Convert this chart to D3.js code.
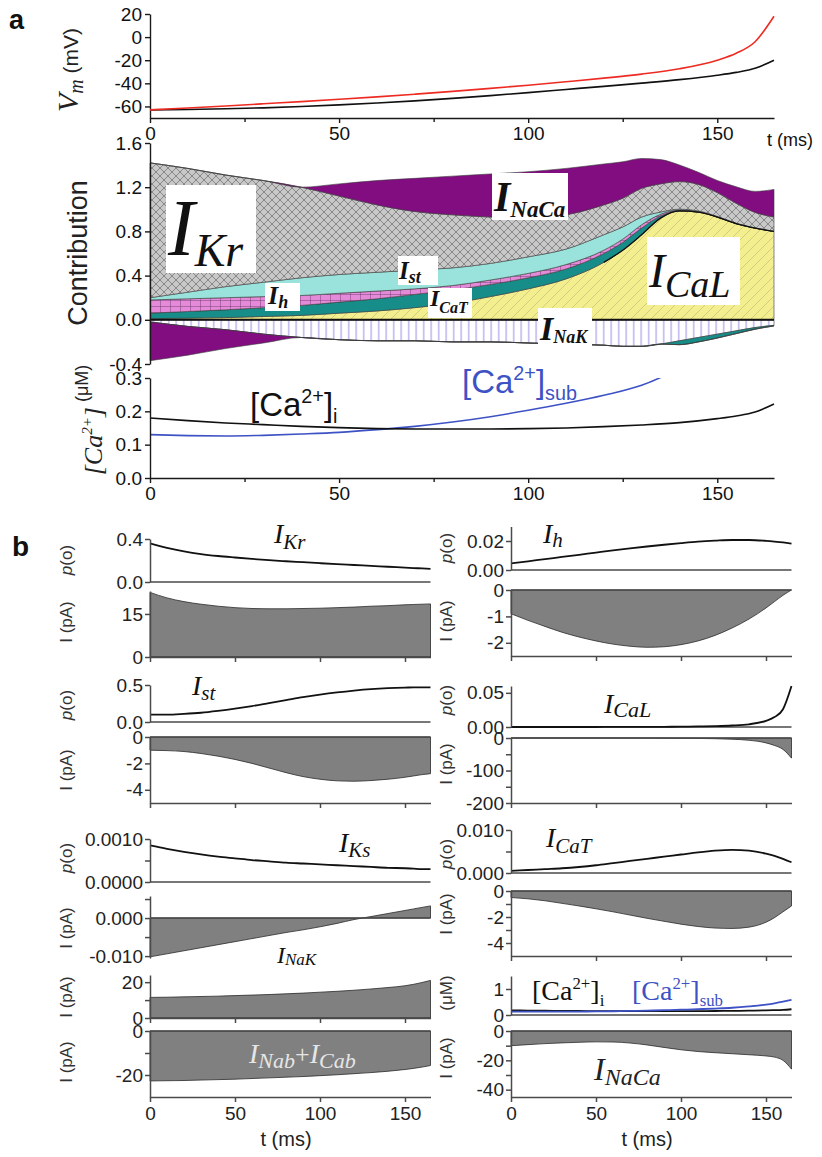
<!DOCTYPE html>
<html>
<head>
<meta charset="utf-8">
<script src="https://cdn.jsdelivr.net/npm/d3@7"></script>
<style>
  body { margin: 0; background: #fff; }
  svg { display: block; }
</style>
</head>
<body>
<script>
// ---- panel a: relative contributions (stacked), t in ms ----
const tContrib = [0, 10, 20, 30, 40, 50, 60, 70, 80, 90, 100, 110, 120, 125, 130, 135, 140, 145, 150, 155, 160, 165];
const contribICaL = [0.01, 0.015, 0.02, 0.03, 0.04, 0.06, 0.08, 0.11, 0.15, 0.21, 0.28, 0.37, 0.52, 0.63, 0.77, 0.92, 0.985, 0.975, 0.93, 0.87, 0.83, 0.8];
const contribICaT = [0.05, 0.06, 0.07, 0.08, 0.09, 0.10, 0.11, 0.12, 0.12, 0.11, 0.10, 0.09, 0.08, 0.07, 0.06, 0.02, -0.035, -0.04, -0.035, -0.025, -0.015, -0.005];
const contribIh = [0.12, 0.115, 0.11, 0.10, 0.09, 0.08, 0.07, 0.05, 0.04, 0.04, 0.04, 0.04, 0.03, 0.03, 0.03, 0.015, 0.008, 0.005, 0.003, 0.002, 0.001, 0];
const contribIst = [0.02, 0.06, 0.10, 0.13, 0.16, 0.17, 0.17, 0.17, 0.16, 0.15, 0.15, 0.14, 0.14, 0.11, 0.07, 0.02, 0.008, 0.005, 0.003, 0.002, 0.001, 0];
const contribIKr = [1.22, 1.12, 1.01, 0.92, 0.82, 0.71, 0.61, 0.53, 0.48, 0.42, 0.35, 0.31, 0.27, 0.26, 0.26, 0.255, 0.25, 0.24, 0.215, 0.18, 0.14, 0.13];
const contribINaCa = [-0.35, -0.26, -0.17, -0.08, 0, 0.11, 0.22, 0.30, 0.35, 0.39, 0.42, 0.42, 0.37, 0.33, 0.27, 0.22, 0.15, 0.11, 0.11, 0.15, 0.19, 0.25];
const contribINaK = [-0.02, -0.06, -0.09, -0.13, -0.16, -0.18, -0.19, -0.19, -0.2, -0.2, -0.21, -0.22, -0.23, -0.24, -0.24, -0.22, -0.19, -0.16, -0.13, -0.1, -0.07, -0.05];

// ---- traces (panels a and b), t in ms ----
const tTrace = [0, 10, 20, 30, 40, 50, 60, 70, 80, 90, 100, 110, 120, 130, 140, 150, 155, 160, 165];
const vmBlack = [-63, -62.6, -62, -61.2, -60, -58.6, -57, -55.2, -53, -50.6, -48, -45.3, -42.6, -39.8, -36.8, -33, -30.5, -27, -20];
const vmRed = [-63, -61.4, -59.6, -57.7, -55.8, -53.8, -51.7, -49.4, -47, -44.4, -41.6, -38.6, -35.5, -32, -27.4, -20, -14, -4, 18];
const caI = [0.18, 0.172, 0.165, 0.16, 0.155, 0.151, 0.148, 0.147, 0.147, 0.147, 0.148, 0.15, 0.154, 0.159, 0.166, 0.178, 0.186, 0.198, 0.222];
const caSub = [0.13, 0.127, 0.126, 0.128, 0.132, 0.137, 0.145, 0.155, 0.168, 0.184, 0.203, 0.224, 0.248, 0.278, 0.33, 0.4, 0.45, 0.51, 0.58];

const pIKr = [0.36, 0.318, 0.285, 0.26, 0.242, 0.228, 0.215, 0.203, 0.193, 0.184, 0.175, 0.166, 0.158, 0.15, 0.142, 0.134, 0.13, 0.126, 0.122];
const iIKr = [22.5, 20.6, 19.3, 18.4, 17.7, 17.2, 16.9, 16.8, 16.8, 16.9, 17.0, 17.2, 17.4, 17.7, 17.9, 18.2, 18.3, 18.4, 18.5];
const pIh = [0.0045, 0.006, 0.0075, 0.009, 0.0105, 0.012, 0.0135, 0.0149, 0.0162, 0.0174, 0.0185, 0.0195, 0.0202, 0.0207, 0.0207, 0.0201, 0.0196, 0.019, 0.0182];
const iIh = [-0.9, -1.15, -1.38, -1.6, -1.78, -1.93, -2.05, -2.13, -2.17, -2.15, -2.07, -1.93, -1.72, -1.44, -1.1, -0.68, -0.44, -0.2, 0];
const pIst = [0.1, 0.1, 0.11, 0.125, 0.15, 0.18, 0.215, 0.255, 0.295, 0.335, 0.37, 0.4, 0.425, 0.445, 0.458, 0.465, 0.467, 0.468, 0.469];
const iIst = [-1.0, -1.03, -1.1, -1.25, -1.45, -1.7, -2.0, -2.35, -2.7, -3.0, -3.2, -3.32, -3.35, -3.3, -3.2, -3.05, -2.95, -2.85, -2.78];
const pICaL = [0, 0, 0, 0, 0, 0, 0.0001, 0.0001, 0.0002, 0.0003, 0.0005, 0.0008, 0.0013, 0.0022, 0.004, 0.009, 0.0145, 0.026, 0.06];
const iICaL = [0, 0, 0, 0, 0, 0, -0.1, -0.2, -0.3, -0.5, -0.8, -1.3, -2.2, -3.8, -7, -15, -23, -35, -62];
const pIKs = [0.00085, 0.00077, 0.0007, 0.00064, 0.00059, 0.00055, 0.00051, 0.00048, 0.00045, 0.00043, 0.00041, 0.00039, 0.00037, 0.00035, 0.00033, 0.00032, 0.00031, 0.0003, 0.0003];
const iIKs = [-0.0102, -0.0094, -0.0086, -0.0078, -0.007, -0.0062, -0.0054, -0.0046, -0.0038, -0.0031, -0.0023, -0.0014, -0.0004, 0.0004, 0.0012, 0.002, 0.0024, 0.0028, 0.0032];
const pICaT = [0.0005, 0.0007, 0.0009, 0.0011, 0.0014, 0.0018, 0.0023, 0.0028, 0.0033, 0.0038, 0.0043, 0.0048, 0.0052, 0.0054, 0.0052, 0.0045, 0.004, 0.0033, 0.0025];
const iICaT = [-0.5, -0.6, -0.75, -0.95, -1.15, -1.37, -1.6, -1.85, -2.1, -2.33, -2.55, -2.73, -2.85, -2.88, -2.78, -2.4, -2.05, -1.6, -1.15];
const iINaK = [11.5, 11.6, 11.8, 12.0, 12.2, 12.5, 12.8, 13.1, 13.5, 13.9, 14.4, 14.9, 15.5, 16.2, 17.0, 18.0, 18.8, 19.8, 21.0];
const iBackground = [-22.7, -22.6, -22.5, -22.3, -22.1, -21.9, -21.6, -21.3, -21.0, -20.7, -20.3, -19.9, -19.4, -18.9, -18.3, -17.5, -17.0, -16.4, -15.7];
const iINaCa = [-10, -9.3, -8.6, -8.1, -7.7, -7.4, -7.5, -8.2, -9.5, -11.2, -12.8, -14, -14.8, -15.5, -16.2, -17, -17.8, -20, -26];

const SANS = "'Liberation Sans', Arial, sans-serif";
const SERIF = "'Liberation Serif', 'Times New Roman', serif";
const hy = f => d => d3.format(f)(d).replace('\u2212', '-');

const svg = d3.select('body').append('svg')
  .attr('width', 822).attr('height', 1157)
  .attr('font-family', SANS);
const defs = svg.append('defs');

function styleA(g) {
  g.selectAll('path,line').attr('stroke', '#1a1a1a').attr('stroke-width', 1.4);
  g.selectAll('text').attr('font-family', SANS).attr('font-size', 19).attr('fill', '#111');
}
function styleB(g) {
  g.selectAll('path,line').attr('stroke', '#4a4a4a').attr('stroke-width', 1.5);
  g.selectAll('text').attr('font-family', SANS).attr('font-size', 19).attr('fill', '#222');
}

function iLabel(x, y, sub, s1, s2, dy, opt = {}) {
  const t = svg.append('text').attr('x', x).attr('y', y)
    .attr('font-family', SERIF).attr('font-style', 'italic')
    .attr('font-weight', opt.bold ? 'bold' : 'normal')
    .attr('fill', opt.fill || '#111');
  t.append('tspan').attr('font-size', s1).text('I');
  t.append('tspan').attr('font-size', s2).attr('dy', dy).text(sub);
  return t;
}

function caLabel(x, y, sub, size, family, color) {
  const t = svg.append('text').attr('x', x).attr('y', y)
    .attr('font-family', family).attr('font-size', size).attr('fill', color);
  t.append('tspan').text('[Ca');
  t.append('tspan').attr('font-size', size * 0.6).attr('dy', -size * 0.38).text('2+');
  t.append('tspan').attr('dy', size * 0.38).text(']');
  t.append('tspan').attr('font-size', size * 0.6).attr('dy', size * 0.22).text(sub);
  return t;
}

function vLabel(x, y, text, size, opt = {}) {
  return svg.append('text')
    .attr('transform', `translate(${x},${y}) rotate(-90)`)
    .attr('text-anchor', 'middle')
    .attr('font-size', size)
    .attr('fill', opt.fill || '#333')
    .text(text);
}

// ---------------- patterns ----------------
const pKr = defs.append('pattern').attr('id', 'pKr').attr('patternUnits', 'userSpaceOnUse').attr('width', 8).attr('height', 8);
pKr.append('rect').attr('width', 8).attr('height', 8).attr('fill', '#c8c8c8');
pKr.append('path').attr('d', 'M0,0L8,8M8,0L0,8').attr('stroke', '#777').attr('stroke-width', 0.8);

const pCaL = defs.append('pattern').attr('id', 'pCaL').attr('patternUnits', 'userSpaceOnUse').attr('width', 10).attr('height', 10);
pCaL.append('rect').attr('width', 10).attr('height', 10).attr('fill', '#f4ef8e');
pCaL.append('path').attr('d', 'M0,10L10,0M-2,2L2,-2M8,12L12,8').attr('stroke', '#c9c27e').attr('stroke-width', 0.8);

const pH = defs.append('pattern').attr('id', 'pH').attr('patternUnits', 'userSpaceOnUse').attr('width', 10).attr('height', 6);
pH.append('rect').attr('width', 10).attr('height', 6).attr('fill', '#e48ad8');
pH.append('path').attr('d', 'M0,0H10M0,0V6').attr('stroke', '#603060').attr('stroke-width', 0.8);

const pNaK = defs.append('pattern').attr('id', 'pNaK').attr('patternUnits', 'userSpaceOnUse').attr('width', 7.5).attr('height', 10);
pNaK.append('rect').attr('width', 7.5).attr('height', 10).attr('fill', '#fff');
pNaK.append('path').attr('d', 'M3.7,0V10').attr('stroke', '#9d8fe6').attr('stroke-width', 1);

// ---------------- panel a ----------------
svg.append('text').attr('x', 9).attr('y', 29).attr('font-size', 27).attr('font-weight', 'bold').attr('fill', '#111').text('a');

const xA = d3.scaleLinear().domain([0, 165]).range([150, 774]);

// Vm
const yVm = d3.scaleLinear().domain([-70, 20]).range([118, 14]);
svg.append('g').attr('transform', 'translate(150,0)')
  .call(d3.axisLeft(yVm).tickValues([-60, -40, -20, 0, 20]).tickSize(5).tickSizeOuter(0).tickPadding(3).tickFormat(hy('d')))
  .call(styleA);
svg.append('g').attr('transform', 'translate(0,118)')
  .call(d3.axisBottom(xA).tickValues([0, 50, 100, 150]).tickSize(5).tickSizeOuter(0).tickPadding(4).tickFormat(d3.format('d')))
  .call(styleA);
svg.append('g').attr('transform', 'translate(0,118)')
  .call(d3.axisBottom(xA).tickValues([25, 75, 125]).tickSize(4).tickFormat(''))
  .call(g => g.select('.domain').remove())
  .call(styleA);
svg.append('text').attr('x', 767).attr('y', 146).attr('font-size', 18).attr('fill', '#111').text('t (ms)');

const vmRows = tTrace.map((t, i) => ({ t, black: vmBlack[i], red: vmRed[i] }));
const vmLine = key => d3.line().x(d => xA(d.t)).y(d => yVm(d[key])).curve(d3.curveMonotoneX);
svg.append('path').datum(vmRows).attr('d', vmLine('black')).attr('fill', 'none').attr('stroke', '#111').attr('stroke-width', 1.6);
svg.append('path').datum(vmRows).attr('d', vmLine('red')).attr('fill', 'none').attr('stroke', '#ee2b22').attr('stroke-width', 1.6);

{
  const t = svg.append('text').attr('transform', 'translate(78,70) rotate(-90)').attr('text-anchor', 'middle').attr('fill', '#222');
  t.append('tspan').attr('font-family', SERIF).attr('font-style', 'italic').attr('font-size', 30).text('V');
  t.append('tspan').attr('font-family', SERIF).attr('font-style', 'italic').attr('font-size', 20).attr('dy', 5).text('m');
  t.append('tspan').attr('font-size', 21).attr('dy', -5).text(' (mV)');
}

// contributions
const yC = d3.scaleLinear().domain([-0.4, 1.6]).range([364, 143]);
const contribRows = tContrib.map((t, i) => ({
  t,
  ICaL: contribICaL[i], ICaT: contribICaT[i], Ih: contribIh[i], Ist: contribIst[i],
  IKr: contribIKr[i], INaCa: contribINaCa[i], INaK: contribINaK[i]
}));
const posKeys = ['ICaL', 'ICaT', 'Ih', 'Ist', 'IKr', 'INaCa'];
const negKeys = ['INaK', 'ICaT', 'INaCa'];
const fills = {
  ICaL: 'url(#pCaL)', ICaT: '#178d89', Ih: 'url(#pH)', Ist: '#9ae3dc',
  IKr: 'url(#pKr)', INaCa: '#820d80', INaK: 'url(#pNaK)'
};
const posStack = d3.stack().keys(posKeys).value((d, k) => Math.max(d[k], 0))(contribRows);
const negStack = d3.stack().keys(negKeys).value((d, k) => Math.min(d[k], 0))(contribRows);
const cArea = d3.area().x(d => xA(d.data.t)).y0(d => yC(d[0])).y1(d => yC(d[1])).curve(d3.curveMonotoneX);

svg.append('g').selectAll('path').data(negStack.concat(posStack)).join('path')
  .attr('d', cArea)
  .attr('fill', d => fills[d.key])
  .attr('stroke', '#3a3a3a')
  .attr('stroke-width', 0.6);

// black edge on top of I_CaL where it meets I_Kr
svg.append('path')
  .datum(posStack[0].filter(d => d.data.t >= 115))
  .attr('d', d3.line().x(d => xA(d.data.t)).y(d => yC(d[1])).curve(d3.curveMonotoneX))
  .attr('fill', 'none').attr('stroke', '#111').attr('stroke-width', 1.3);

svg.append('line').attr('x1', xA(0)).attr('x2', xA(165)).attr('y1', yC(0)).attr('y2', yC(0))
  .attr('stroke', '#111').attr('stroke-width', 2);

svg.append('g').attr('transform', 'translate(150,0)')
  .call(d3.axisLeft(yC).tickValues([-0.4, 0, 0.4, 0.8, 1.2, 1.6]).tickSize(5).tickSizeOuter(0).tickPadding(3).tickFormat(hy('.1f')))
  .call(styleA);

vLabel(87, 253, 'Contribution', 27, { fill: '#222' });

// label boxes
function boxLabel(bx, by, bw, bh) {
  svg.append('rect').attr('x', bx).attr('y', by).attr('width', bw).attr('height', bh).attr('fill', '#fff');
}
boxLabel(166, 185, 90, 88);
iLabel(168, 255, 'Kr', 80, 46, 11);
boxLabel(492, 173, 76, 47);
iLabel(494, 211, 'NaCa', 42, 23, 6, { bold: true });
boxLabel(398, 256, 40, 29);
iLabel(399, 279, 'st', 25, 18, 4, { bold: true });
boxLabel(265, 283, 35, 28);
iLabel(268, 304, 'h', 26, 18, 4, { bold: true });
boxLabel(428, 288, 44, 30);
iLabel(430, 306, 'CaT', 24, 16, 7, { bold: true });
boxLabel(647, 237, 93, 68);
iLabel(649, 287, 'CaL', 48, 38, 10);
boxLabel(538, 308, 54, 40);
iLabel(540, 340, 'NaK', 34, 18, 3, { bold: true });

// [Ca2+] panel a
const yCa = d3.scaleLinear().domain([0, 0.3]).range([478, 378]);
defs.append('clipPath').attr('id', 'clipCa').append('rect')
  .attr('x', 150).attr('y', 378).attr('width', 630).attr('height', 100);
const caRows = tTrace.map((t, i) => ({ t, ci: caI[i], cs: caSub[i] }));
const caLineA = key => d3.line().x(d => xA(d.t)).y(d => yCa(d[key])).curve(d3.curveMonotoneX);
const caG = svg.append('g').attr('clip-path', 'url(#clipCa)');
caG.append('path').datum(caRows).attr('d', caLineA('cs')).attr('fill', 'none').attr('stroke', '#3d52c4').attr('stroke-width', 1.6);
caG.append('path').datum(caRows).attr('d', caLineA('ci')).attr('fill', 'none').attr('stroke', '#111').attr('stroke-width', 1.6);

svg.append('g').attr('transform', 'translate(150,0)')
  .call(d3.axisLeft(yCa).tickValues([0, 0.1, 0.2, 0.3]).tickSize(5).tickSizeOuter(0).tickPadding(3).tickFormat(hy('.1f')))
  .call(styleA);
svg.append('g').attr('transform', 'translate(0,478)')
  .call(d3.axisBottom(xA).tickValues([0, 50, 100, 150]).tickSize(5).tickSizeOuter(0).tickPadding(4).tickFormat(d3.format('d')))
  .call(styleA);
svg.append('g').attr('transform', 'translate(0,478)')
  .call(d3.axisBottom(xA).tickValues([25, 75, 125]).tickSize(4).tickFormat(''))
  .call(g => g.select('.domain').remove())
  .call(styleA);

caLabel(250, 416, 'i', 33, SANS, '#111');
caLabel(462, 393, 'sub', 33, SANS, '#3d52c4');

{
  const t = svg.append('text').attr('transform', 'translate(102,420) rotate(-90)').attr('text-anchor', 'middle').attr('fill', '#222');
  t.append('tspan').attr('font-family', SERIF).attr('font-style', 'italic').attr('font-size', 26).text('[Ca');
  t.append('tspan').attr('font-family', SERIF).attr('font-style', 'italic').attr('font-size', 15).attr('dy', -10).text('2+');
  t.append('tspan').attr('font-family', SERIF).attr('font-style', 'italic').attr('font-size', 26).attr('dy', 10).text(']');
  t.append('tspan').attr('font-size', 18).attr('dy', -14).text(' (\u03bcM)');
}

// ---------------- panel b ----------------
svg.append('text').attr('x', 12).attr('y', 556).attr('font-size', 28).attr('font-weight', 'bold').attr('fill', '#111').text('b');

const xL = d3.scaleLinear().domain([0, 165]).range([150, 430.5]);
const xR = d3.scaleLinear().domain([0, 165]).range([511, 791.5]);

const bPlots = [
  { x: xL, kind: 'line', vals: [pIKr], dom: [0, 0.4], rng: [582, 539], major: [0, 0.4], fmt: '.1f', lab: 'p', ly: 560 },
  { x: xL, kind: 'area', vals: [iIKr], dom: [0, 23], rng: [657, 591], major: [0, 15], fmt: 'd', lab: 'I', ly: 622, axis: 657 },
  { x: xR, kind: 'line', vals: [pIh], dom: [0, 0.03], rng: [570, 526.5], major: [0, 0.02], fmt: '.2f', lab: 'p', ly: 548 },
  { x: xR, kind: 'area', vals: [iIh], dom: [-2.5, 0], rng: [656, 590], major: [0, -1, -2], fmt: 'd', lab: 'I', ly: 621, axis: 656 },
  { x: xL, kind: 'line', vals: [pIst], dom: [0, 0.5], rng: [722, 685], major: [0, 0.5], fmt: '.1f', lab: 'p', ly: 705 },
  { x: xL, kind: 'area', vals: [iIst], dom: [-5, 0], rng: [803, 737], major: [0, -2, -4], fmt: 'd', lab: 'I', ly: 770, axis: 803 },
  { x: xR, kind: 'line', vals: [pICaL], dom: [0, 0.06], rng: [727, 686], major: [0, 0.05], fmt: '.2f', lab: 'p', ly: 700 },
  { x: xR, kind: 'area', vals: [iICaL], dom: [-200, 0], rng: [803, 738], major: [0, -100, -200], minor: [-50, -150], fmt: 'd', lab: 'I', ly: 764, axis: 803 },
  { x: xL, kind: 'line', vals: [pIKs], dom: [0, 0.001], rng: [882, 839], major: [0, 0.001], minor: [0.0005], fmt: '.4f', lab: 'p', ly: 858 },
  { x: xL, kind: 'area', vals: [iIKs], dom: [-0.0105, 0.0058], rng: [958, 896], major: [0, -0.01], minor: [0.005, -0.005], fmt: '.3f', lab: 'I', ly: 928 },
  { x: xR, kind: 'line', vals: [pICaT], dom: [0, 0.01], rng: [873, 830], major: [0, 0.01], minor: [0.005], fmt: '.3f', lab: 'p', ly: 854 },
  { x: xR, kind: 'area', vals: [iICaT], dom: [-5, 0], rng: [956, 891], major: [0, -2, -4], minor: [-1, -3], fmt: 'd', lab: 'I', ly: 914, axis: 956 },
  { x: xL, kind: 'area', vals: [iINaK], dom: [0, 24], rng: [1018, 975], major: [0, 20], minor: [10], fmt: 'd', lab: 'I', ly: 997, axis: 1018 },
  { x: xR, kind: 'line', vals: [caI, caSub], colors: ['#111', '#3d52c4'], dom: [0, 1.5], rng: [1015, 976], major: [0, 1], fmt: 'd', lab: 'uM', ly: 993 },
  { x: xL, kind: 'area', vals: [iBackground], dom: [-30, 0], rng: [1097, 1031], major: [0, -20], minor: [-10], fmt: 'd', lab: 'I', ly: 1062, axis: 1097, labels: true },
  { x: xR, kind: 'area', vals: [iINaCa], dom: [-45, 0], rng: [1097, 1031], major: [0, -20, -40], minor: [-10, -30], fmt: 'd', lab: 'I', ly: 1058, axis: 1097, labels: true }
];

bPlots.forEach(p => {
  const xs = p.x;
  const ys = d3.scaleLinear().domain(p.dom).range(p.rng);
  const x0 = xs.range()[0];

  if (p.kind === 'area') {
    const ar = d3.area().x((d, i) => xs(tTrace[i])).y0(ys(0)).y1(d => ys(d)).curve(d3.curveMonotoneX);
    svg.append('path').datum(p.vals[0]).attr('d', ar)
      .attr('fill', '#808080').attr('stroke', '#2a2a2a').attr('stroke-width', 0.8);
  }
  // baseline / zero line
  svg.append('line').attr('x1', x0).attr('x2', xs(165)).attr('y1', ys(0)).attr('y2', ys(0))
    .attr('stroke', '#4a4a4a').attr('stroke-width', 1.5);

  if (p.kind === 'line') {
    const ln = d3.line().x((d, i) => xs(tTrace[i])).y(d => ys(d)).curve(d3.curveMonotoneX);
    p.vals.forEach((v, k) => {
      svg.append('path').datum(v).attr('d', ln).attr('fill', 'none')
        .attr('stroke', p.colors ? p.colors[k] : '#111').attr('stroke-width', 1.8);
    });
  }

  const g = svg.append('g').attr('transform', `translate(${x0},0)`)
    .call(d3.axisLeft(ys).tickValues(p.major).tickSize(5).tickSizeOuter(0).tickPadding(2).tickFormat(hy(p.fmt)));
  if (p.minor) {
    g.append('g').call(d3.axisLeft(ys).tickValues(p.minor).tickSize(5).tickFormat(''))
      .call(s => s.select('.domain').remove());
  }
  styleB(g);

  if (p.axis) {
    const ga = svg.append('g').attr('transform', `translate(0,${p.axis})`)
      .call(d3.axisBottom(xs).tickValues([0, 50, 100, 150]).tickSize(5).tickSizeOuter(0).tickPadding(5)
        .tickFormat(p.labels ? d3.format('d') : ''));
    styleB(ga);
  }

  const lx = xs === xL ? 72 : 452;
  const t = svg.append('text').attr('transform', `translate(${lx},${p.ly}) rotate(-90)`)
    .attr('text-anchor', 'middle').attr('font-size', 17).attr('fill', '#333');
  if (p.lab === 'p') {
    t.append('tspan').attr('font-style', 'italic').text('p');
    t.append('tspan').text('(o)');
  } else if (p.lab === 'I') {
    t.text('I (pA)');
  } else {
    t.text('(\u03bcM)');
  }
});

svg.append('text').attr('x', xL(80)).attr('y', 1146).attr('text-anchor', 'middle').attr('font-size', 20).attr('fill', '#222').text('t (ms)');
svg.append('text').attr('x', xR(80)).attr('y', 1146).attr('text-anchor', 'middle').attr('font-size', 20).attr('fill', '#222').text('t (ms)');

// channel labels in panel b
iLabel(274, 543, 'Kr', 28, 21, 6);
iLabel(543, 543, 'h', 28, 21, 4);
iLabel(192, 695, 'st', 28, 21, 5);
iLabel(604, 713, 'CaL', 28, 22, 4);
iLabel(339, 852, 'Ks', 28, 21, 5);
iLabel(546, 847, 'CaT', 28, 21, 6);
iLabel(277, 963, 'NaK', 24, 17, 2);
{
  const t = svg.append('text').attr('x', 249).attr('y', 1063)
    .attr('font-family', SERIF).attr('font-style', 'italic').attr('fill', '#e6e6e6');
  t.append('tspan').attr('font-size', 28).text('I');
  t.append('tspan').attr('font-size', 22).attr('dy', 5).text('Nab');
  t.append('tspan').attr('font-size', 26).attr('dy', -5).attr('font-style', 'normal').text('+');
  t.append('tspan').attr('font-size', 28).text('I');
  t.append('tspan').attr('font-size', 22).attr('dy', 5).text('Cab');
}
iLabel(594, 1080, 'NaCa', 32, 24, 5, { fill: '#222' });

caLabel(532, 1000, 'i', 28, SERIF, '#111');
caLabel(632, 1000, 'sub', 28, SERIF, '#3d52c4');
</script>
</body>
</html>
